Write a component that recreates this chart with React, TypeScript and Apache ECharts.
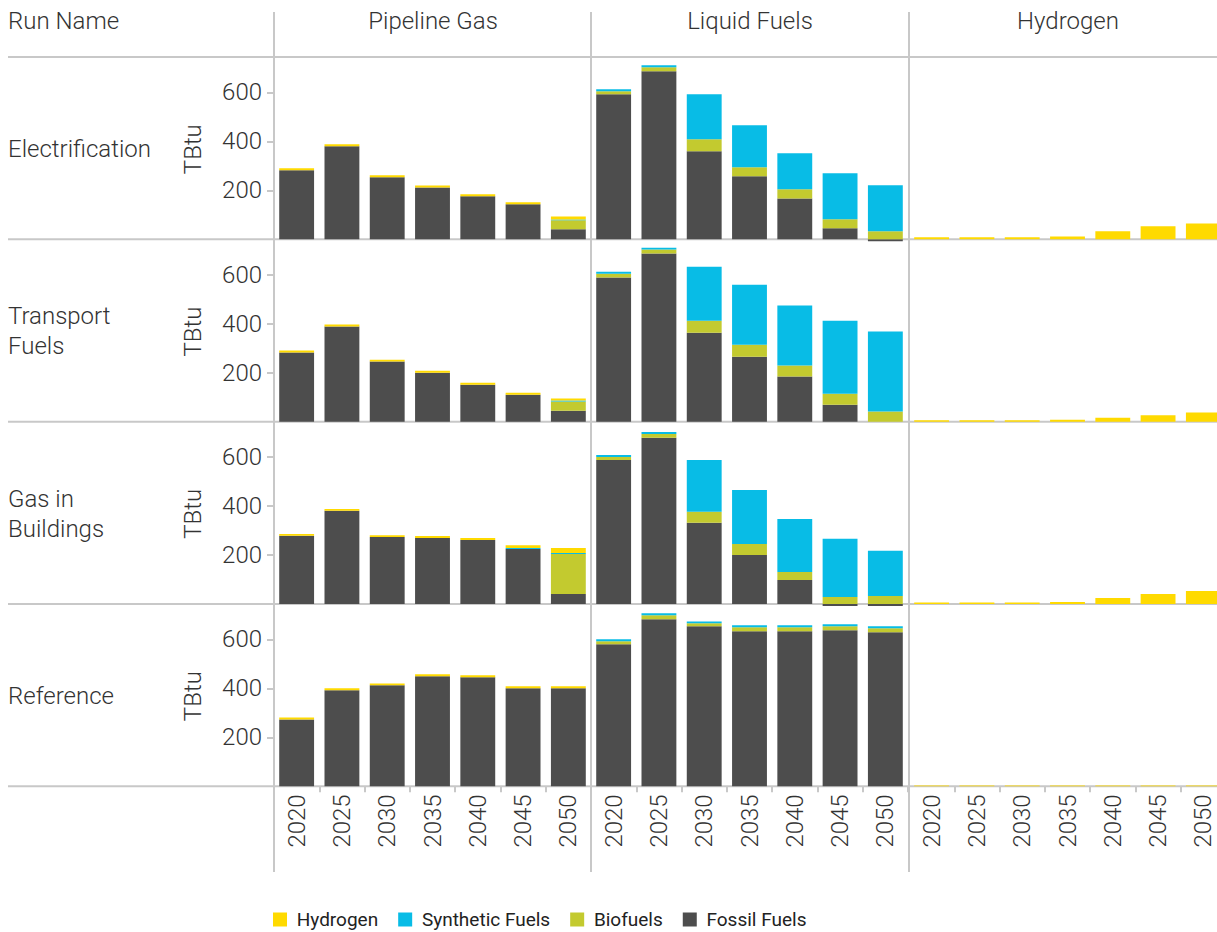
import React, { useEffect, useRef } from "react";
import * as echarts from "echarts";

const years = ["2020", "2025", "2030", "2035", "2040", "2045", "2050"];
const runNames = ["Electrification", "Transport\nFuels", "Gas in\nBuildings", "Reference"];
const columnNames = ["Pipeline Gas", "Liquid Fuels", "Hydrogen"];
const seriesNames = ["Fossil Fuels", "Biofuels", "Synthetic Fuels", "Hydrogen"];
const legendOrder = ["Hydrogen", "Synthetic Fuels", "Biofuels", "Fossil Fuels"];
const yTicks = [200, 400, 600];
const zeros = [0, 0, 0, 0, 0, 0, 0];

// Electrification
const elecGasFossil = [282, 380, 253, 212, 176, 143, 41];
const elecGasBio = [0, 0, 0, 0, 0, 0, 37];
const elecGasSynth = [0, 0, 0, 0, 0, 0, 3];
const elecGasH2 = [8, 8, 8, 8, 8, 8, 12];
const elecLiqFossil = [592, 686, 359, 257, 167, 45, -8];
const elecLiqBio = [12, 16, 49, 37, 37, 37, 33];
const elecLiqSynth = [8, 8, 184, 171, 147, 188, 188];
const elecH2 = [8, 8, 8, 12, 33, 53, 65];

// Transport Fuels
const transGasFossil = [282, 388, 245, 200, 151, 110, 45];
const transGasBio = [0, 0, 0, 0, 0, 0, 37];
const transGasSynth = [0, 0, 0, 0, 0, 0, 4];
const transGasH2 = [8, 8, 8, 8, 8, 8, 8];
const transLiqFossil = [588, 686, 363, 265, 184, 69, 0];
const transLiqBio = [16, 16, 49, 49, 45, 45, 41];
const transLiqSynth = [8, 8, 220, 245, 245, 298, 327];
const transH2 = [6, 6, 6, 8, 16, 26, 37];

// Gas in Buildings
const bldgGasFossil = [278, 380, 273, 269, 261, 224, 41];
const bldgGasBio = [0, 0, 0, 0, 0, 0, 163];
const bldgGasSynth = [0, 0, 0, 0, 0, 4, 4];
const bldgGasH2 = [8, 8, 8, 8, 8, 12, 20];
const bldgLiqFossil = [588, 678, 331, 200, 98, -8, -8];
const bldgLiqBio = [12, 16, 45, 45, 33, 29, 33];
const bldgLiqSynth = [8, 8, 212, 220, 216, 237, 184];
const bldgH2 = [6, 6, 6, 8, 24, 41, 53];

// Reference
const refGasFossil = [273, 392, 412, 449, 445, 400, 400];
const refGasBio = zeros;
const refGasSynth = zeros;
const refGasH2 = [8, 8, 8, 8, 8, 8, 8];
const refLiqFossil = [580, 682, 653, 633, 633, 637, 629];
const refLiqBio = [12, 16, 12, 16, 16, 16, 16];
const refLiqSynth = [8, 8, 8, 8, 8, 8, 8];
const refH2 = [3, 3, 3, 3, 3, 3, 3];

// panels[row][col] = [fossil, bio, synth, hydrogen]
const panels = [
  [
    [elecGasFossil, elecGasBio, elecGasSynth, elecGasH2],
    [elecLiqFossil, elecLiqBio, elecLiqSynth, zeros],
    [zeros, zeros, zeros, elecH2],
  ],
  [
    [transGasFossil, transGasBio, transGasSynth, transGasH2],
    [transLiqFossil, transLiqBio, transLiqSynth, zeros],
    [zeros, zeros, zeros, transH2],
  ],
  [
    [bldgGasFossil, bldgGasBio, bldgGasSynth, bldgGasH2],
    [bldgLiqFossil, bldgLiqBio, bldgLiqSynth, zeros],
    [zeros, zeros, zeros, bldgH2],
  ],
  [
    [refGasFossil, refGasBio, refGasSynth, refGasH2],
    [refLiqFossil, refLiqBio, refLiqSynth, zeros],
    [zeros, zeros, zeros, refH2],
  ],
];

const colors: Record<string, string> = {
  "Fossil Fuels": "#4d4d4d",
  Biofuels: "#c3ca2f",
  "Synthetic Fuels": "#08bce6",
  Hydrogen: "#ffda00",
};

const FONT = "Roboto";
const TEXT = "#333333";
const LINE = "#c8c8c8";
const FS = 24;

export default function App() {
  const ref = useRef<HTMLDivElement>(null);

  useEffect(() => {
    if (!ref.current) return;
    const chart = echarts.init(ref.current, undefined, { renderer: "svg" });

    const colLeft = [274, 591, 909];
    const colWidth = 317;
    const top0 = 57;
    const rowH = 182.33;
    const yMax = 744;

    const grid: any[] = [];
    const xAxis: any[] = [];
    const yAxis: any[] = [];
    const series: any[] = [];

    for (let r = 0; r < 4; r++) {
      for (let c = 0; c < 3; c++) {
        const p = r * 3 + c;
        grid.push({
          left: colLeft[c],
          top: top0 + r * rowH,
          width: colWidth,
          height: rowH,
          containLabel: false,
          outerBoundsMode: "none",
        });
        const bottomRow = r === 3;
        xAxis.push({
          type: "category",
          gridIndex: p,
          data: years,
          boundaryGap: true,
          axisLine: { show: false },
          axisTick: {
            show: bottomRow,
            length: 6,
            interval: 0,
            lineStyle: { color: LINE, width: 2 },
          },
          axisLabel: {
            show: bottomRow,
            rotate: 90,
            interval: 0,
            margin: 8,
            fontSize: FS,
            color: TEXT,
            fontFamily: FONT,
            fontWeight: 300,
          },
          splitLine: { show: false },
        });
        yAxis.push({
          type: "value",
          gridIndex: p,
          min: 0,
          max: yMax,
          axisLine: { show: false },
          splitLine: { show: false },
          axisTick: {
            show: c === 0,
            length: 7,
            customValues: yTicks,
            lineStyle: { color: LINE, width: 2 },
          },
          axisLabel: {
            show: c === 0,
            customValues: yTicks,
            margin: 12,
            fontSize: FS,
            color: TEXT,
            fontFamily: FONT,
            fontWeight: 300,
          },
        });
        seriesNames.forEach((name, k) => {
          series.push({
            type: "bar",
            name,
            xAxisIndex: p,
            yAxisIndex: p,
            stack: "s" + p,
            barCategoryGap: "23%",
            clip: false,
            itemStyle: { color: colors[name] },
            data: panels[r][c][k],
          });
        });
      }
    }

    const lineStyle = { stroke: LINE, lineWidth: 2 };
    const graphic: any[] = [];
    graphic.push({
      type: "line",
      shape: { x1: 8, y1: top0, x2: 1217, y2: top0 },
      style: lineStyle,
      silent: true,
    });
    for (let r = 0; r < 4; r++) {
      const y = top0 + (r + 1) * rowH;
      graphic.push({
        type: "line",
        shape: { x1: 8, y1: y, x2: 1217, y2: y },
        style: lineStyle,
        silent: true,
      });
    }
    colLeft.forEach((x) => {
      graphic.push({
        type: "line",
        shape: { x1: x, y1: 12, x2: x, y2: 872 },
        style: lineStyle,
        silent: true,
      });
    });
    const txt = (text: string, x: number, y: number, align: string, extra: any = {}) => ({
      type: "text",
      x,
      y,
      silent: true,
      ...extra,
      style: {
        text,
        fill: TEXT,
        font: `300 ${FS}px ${FONT}`,
        align,
        verticalAlign: "middle",
        lineHeight: 30,
      },
    });
    graphic.push(txt("Run Name", 8, 21, "left"));
    columnNames.forEach((name, c) => {
      graphic.push(txt(name, colLeft[c] + 159, 21, "center"));
    });
    runNames.forEach((name, r) => {
      const cy = top0 + r * rowH + rowH / 2 + 1;
      graphic.push(txt(name, 8, cy, "left"));
      graphic.push(txt("TBtu", 193, cy, "center", { rotation: Math.PI / 2 }));
    });

    chart.setOption({
      animation: false,
      backgroundColor: "#ffffff",
      textStyle: { fontFamily: FONT },
      grid,
      xAxis,
      yAxis,
      series,
      graphic,
      legend: {
        data: legendOrder,
        left: 273,
        top: 910,
        padding: 0,
        icon: "rect",
        itemWidth: 14,
        itemHeight: 14,
        itemGap: 20,
        formatter: (name: string) => " " + name,
        textStyle: {
          fontSize: 19,
          color: "#222",
          fontFamily: FONT,
        },
      },
    });

    return () => chart.dispose();
  }, []);

  return (
    <div
      ref={ref}
      style={{
        position: "absolute",
        left: 0,
        top: 0,
        width: 1217,
        height: 932,
        overflow: "hidden",
      }}
    />
  );
}
